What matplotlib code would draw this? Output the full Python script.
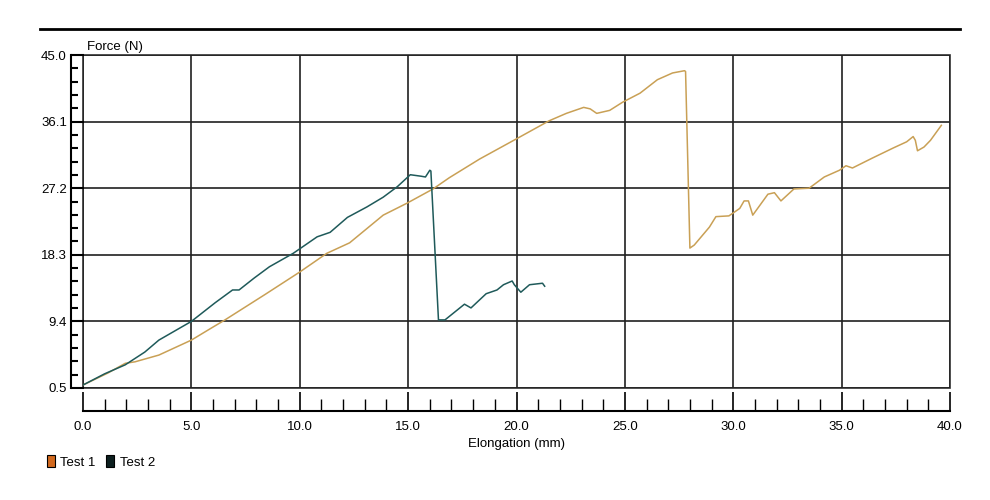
import matplotlib.pyplot as plt
import matplotlib.ticker as mticker
from matplotlib.patches import Patch, Rectangle
from matplotlib.lines import Line2D
import numpy as np

plt.rcParams['font.family'] = ['Liberation Sans Narrow', 'Liberation Sans', 'DejaVu Sans']

# Test 1 (orange)
t1_x = [0.0, 1.15, 1.95, 2.4, 3.5, 5.0, 5.8, 6.55, 8.4, 10.0, 11.25, 12.3, 13.85, 14.95,
        16.15, 16.9, 18.3, 20.0, 21.5, 22.3, 23.1, 23.4, 23.7, 24.3, 24.9, 25.7, 26.5,
        27.2, 27.75, 27.8, 28.0, 28.2, 28.9, 29.2, 29.8, 30.3, 30.5, 30.7, 30.9, 31.6,
        31.9, 32.2, 32.8, 33.5, 34.2, 34.9, 35.2, 35.5, 36.4, 37.4, 38.0, 38.3, 38.4,
        38.5, 38.8, 39.1, 39.6]
t1_y = [0.9, 2.5, 3.8, 4.0, 4.9, 6.9, 8.3, 9.6, 13.0, 16.0, 18.5, 19.9, 23.6, 25.2,
        27.1, 28.6, 31.1, 33.8, 36.2, 37.2, 38.0, 37.8, 37.2, 37.6, 38.7, 39.9, 41.7,
        42.6, 42.9, 42.8, 19.2, 19.6, 22.0, 23.4, 23.5, 24.5, 25.5, 25.5, 23.6, 26.4,
        26.6, 25.5, 27.1, 27.2, 28.7, 29.6, 30.2, 29.9, 31.2, 32.6, 33.4, 34.1, 33.6,
        32.2, 32.7, 33.6, 35.6]

# Test 2 (dark teal)
t2_x = [0.0, 1.0, 1.95, 2.85, 3.5, 5.0, 6.1, 6.9, 7.2, 7.9, 8.6, 9.7, 10.8, 11.4, 12.2,
        13.1, 13.85, 14.5, 15.1, 15.6, 15.8, 16.0, 16.05, 16.4, 16.7, 17.6, 17.9, 18.6,
        19.1, 19.4, 19.8, 19.9, 20.2, 20.6, 21.2, 21.3]
t2_y = [0.9, 2.4, 3.6, 5.3, 6.9, 9.4, 11.9, 13.6, 13.6, 15.2, 16.7, 18.5, 20.7, 21.3, 23.3,
        24.7, 26.0, 27.4, 29.0, 28.8, 28.7, 29.6, 29.5, 9.6, 9.6, 11.7, 11.2, 13.1,
        13.6, 14.3, 14.8, 14.3, 13.3, 14.3, 14.5, 14.1]

y_ticks = [0.5, 9.4, 18.3, 27.2, 36.1, 45.0]
x_ticks = [0, 5, 10, 15, 20, 25, 30, 35, 40]

c1 = '#c9a055'
c2 = '#1f5a5a'

fig = plt.figure(figsize=(9.9, 5), dpi=100)
ax = fig.add_axes([83 / 990, 112 / 500, 867 / 990, 333 / 500])

ax.plot(t1_x, t1_y, color=c1, lw=1.1)
ax.plot(t2_x, t2_y, color=c2, lw=1.1)

ax.set_xlim(0, 40)
ax.set_ylim(0.5, 45.0)
ax.set_yticks(y_ticks)
ax.set_yticklabels(['%.1f' % v for v in y_ticks])
ax.yaxis.set_minor_locator(mticker.FixedLocator(np.arange(0.5, 45.0, 1.78)))
ax.set_xticks(x_ticks)
ax.set_xticklabels(['%.1f' % v for v in x_ticks])
ax.xaxis.set_minor_locator(mticker.MultipleLocator(1))

ax.grid(True, which='major', color='#202020', lw=1.2)

for s in ['top', 'right']:
    ax.spines[s].set_visible(False)
ax.spines['left'].set_position(('outward', 8.6))
ax.spines['bottom'].set_position(('outward', 16.5))
ax.spines['left'].set_linewidth(1.5)
ax.spines['bottom'].set_linewidth(1.5)

ax.tick_params(axis='y', which='major', direction='in', length=9, width=1.5, pad=3, labelsize=9.5)
ax.tick_params(axis='y', which='minor', direction='in', length=5, width=1.5)
ax.tick_params(axis='x', which='major', direction='in', length=14, width=1.2, pad=7, labelsize=9.5)
ax.tick_params(axis='x', which='minor', direction='in', length=8.5, width=1.0)

ax.add_patch(Rectangle((0, 0), 1, 1, transform=ax.transAxes, fill=False,
                       edgecolor='#303030', lw=1.2, clip_on=False))

ax.set_xlabel('Elongation (mm)', fontsize=9.5, labelpad=4)
fig.text(87 / 990, 1 - 53 / 500, 'Force (N)', fontsize=9.5, va='bottom')

# top rule
fig.add_artist(Line2D([40 / 990, 960 / 990], [1 - 29 / 500, 1 - 29 / 500],
                      color='black', lw=2))

handles = [Patch(facecolor='#d2691e', edgecolor='black', lw=0.8, label='Test 1'),
           Patch(facecolor='#0d1f1f', edgecolor='black', lw=0.8, label='Test 2')]
fig.legend(handles=handles, loc='lower left', bbox_to_anchor=(42 / 990, 1 - 474 / 500),
           ncol=2, frameon=False, fontsize=9.5, handlelength=0.6, handleheight=1.0,
           handletextpad=0.4, columnspacing=0.8, borderaxespad=0)

fig.savefig('out.png', dpi=100)
